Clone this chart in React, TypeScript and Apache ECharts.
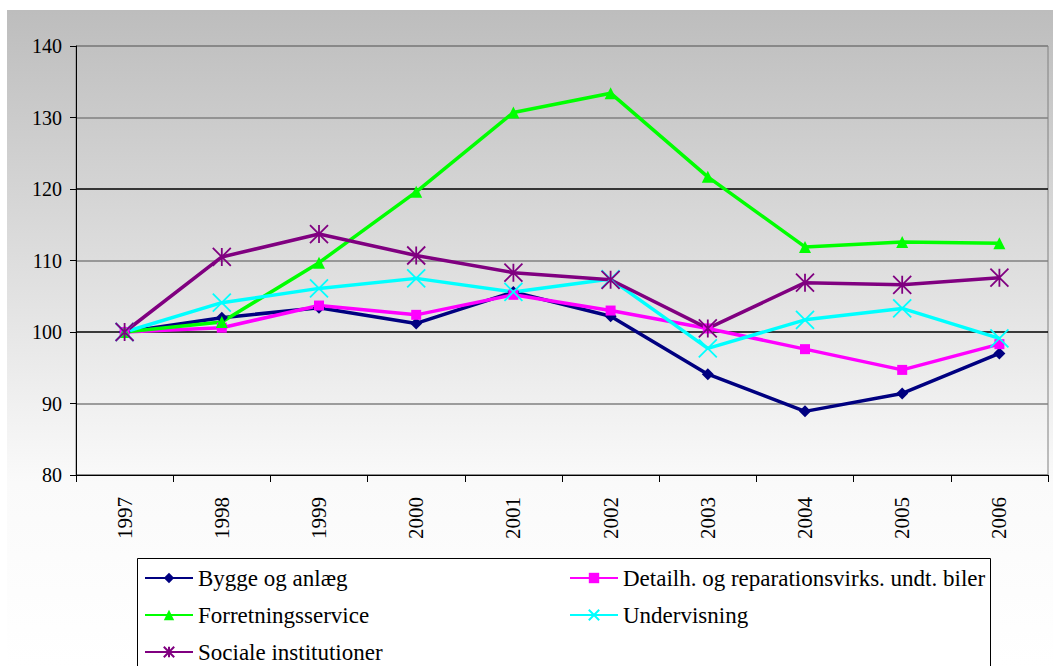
import React, { useEffect, useRef } from "react";
import * as echarts from "echarts";

const years = ["1997", "1998", "1999", "2000", "2001", "2002", "2003", "2004", "2005", "2006"];
const byggeOgAnlaeg = [100, 102.0, 103.4, 101.2, 105.6, 102.2, 94.1, 88.9, 91.4, 97.0];
const detailh = [100, 100.6, 103.7, 102.4, 105.2, 103.0, 100.5, 97.6, 94.7, 98.3];
const forretningsservice = [100, 101.4, 109.7, 119.6, 130.7, 133.4, 121.7, 111.9, 112.6, 112.4];
const undervisning = [100, 104.1, 106.1, 107.5, 105.6, 107.4, 97.7, 101.7, 103.3, 99.1];
const socialeInstitutioner = [100, 110.5, 113.7, 110.7, 108.3, 107.3, 100.5, 106.9, 106.6, 107.6];
const seriesNames = [
  "Bygge og anlæg",
  "Detailh. og reparationsvirks. undt. biler",
  "Forretningsservice",
  "Undervisning",
  "Sociale institutioner",
];

const FONT = "Liberation Serif";
const X_SYMBOL = "path://M0,0L10,10M10,0L0,10";
const STAR_SYMBOL = "path://M5,0L5,10M0,0L10,10M10,0L0,10";

export default function App() {
  const ref = useRef<HTMLDivElement>(null);
  useEffect(() => {
    if (!ref.current) return;
    const chart = echarts.init(ref.current, null, { renderer: "svg" });
    const mk = (name: string, data: number[], color: string, symbol: string, size: number, stroke: boolean) => ({
      name,
      type: "line",
      data,
      symbol,
      symbolSize: size,
      showSymbol: true,
      lineStyle: { color, width: 3.5 },
      itemStyle: stroke
        ? { color, borderColor: color, borderWidth: 1.8 }
        : { color, borderWidth: 0 },
      emphasis: { disabled: true },
    });
    const legendAt = (name: string, left: number, top: number) => ({
      data: [name],
      orient: "horizontal",
      left,
      top,
      padding: 0,
      itemWidth: 48,
      itemHeight: 13,
      z: 10,
      textStyle: { color: "#000", fontFamily: FONT, fontSize: 23, lineHeight: 24 },
      selectedMode: false,
    });
    chart.setOption({
      animation: false,
      textStyle: { fontFamily: FONT },
      graphic: [
        {
          type: "rect",
          z: -10,
          silent: true,
          shape: { x: 7, y: 10, width: 1046, height: 656 },
          style: {
            fill: new echarts.graphic.LinearGradient(0, 0, 0, 1, [
              { offset: 0, color: "#bdbdbd" },
              { offset: 0.72, color: "#fafafa" },
              { offset: 1, color: "#ffffff" },
            ]),
          },
        },
        {
          type: "rect",
          z: 5,
          silent: true,
          shape: { x: 137.5, y: 558.5, width: 853, height: 130 },
          style: { fill: "#ffffff", stroke: "#000", lineWidth: 1 },
        },
      ],
      grid: {
        left: 76,
        right: 5,
        top: 46,
        bottom: 191,
        show: true,
        borderColor: "#808080",
        borderWidth: 1,
        backgroundColor: "transparent",
      },
      xAxis: {
        type: "category",
        data: years,
        boundaryGap: true,
        axisLine: { lineStyle: { color: "#000", width: 1 } },
        axisTick: { show: true, alignWithLabel: false, length: 7, lineStyle: { color: "#000" } },
        axisLabel: {
          rotate: 90,
          margin: 22,
          color: "#000",
          fontFamily: FONT,
          fontSize: 21,
        },
        splitLine: { show: false },
      },
      yAxis: {
        type: "value",
        min: 80,
        max: 140,
        interval: 10,
        axisLine: { show: true, lineStyle: { color: "#000", width: 1 } },
        axisTick: { show: true, length: 6, lineStyle: { color: "#000" } },
        axisLabel: { margin: 14, color: "#000", fontFamily: FONT, fontSize: 20 },
        splitLine: {
          show: true,
          lineStyle: {
            width: 1.5,
            color: ["#808080", "#808080", "#000000", "#808080", "#000000", "#808080", "#808080"],
          },
        },
      },
      legend: [
        legendAt(seriesNames[0], 144, 566),
        legendAt(seriesNames[2], 144, 603),
        legendAt(seriesNames[4], 144, 640),
        legendAt(seriesNames[1], 569, 566),
        legendAt(seriesNames[3], 569, 603),
      ],
      series: [
        mk(seriesNames[0], byggeOgAnlaeg, "#000080", "diamond", 12, false),
        mk(seriesNames[1], detailh, "#ff00ff", "rect", 10, false),
        mk(seriesNames[2], forretningsservice, "#00ff00", "triangle", 12, false),
        mk(seriesNames[3], undervisning, "#00ffff", X_SYMBOL, 18, true),
        mk(seriesNames[4], socialeInstitutioner, "#800080", STAR_SYMBOL, 18, true),
      ],
    });
    return () => chart.dispose();
  }, []);
  return (
    <div
      ref={ref}
      style={{ position: "fixed", left: 0, top: 0, width: 1053, height: 666, background: "#fff" }}
    />
  );
}
